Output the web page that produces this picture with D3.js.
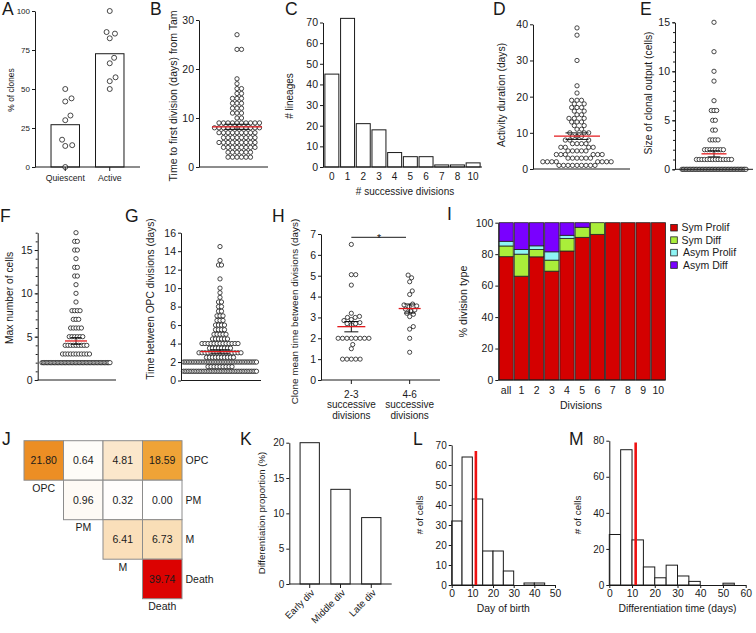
<!DOCTYPE html>
<html>
<head>
<meta charset="utf-8">
<script src="https://cdn.jsdelivr.net/npm/d3@7"></script>
<style>
  body { margin: 0; background: #fff; }
  svg { display: block; }
  text { font-family: "Liberation Sans", Arial, Helvetica, sans-serif; fill: #1a1a1a; }
</style>
</head>
<body>
<svg id="fig" width="756" height="633"></svg>
<script>
// ---- data ----

// A: % of clones per animal
const pctQuiescent = [50, 44, 42, 33, 30, 17.5, 14, 13.5, 0];
const pctActive = [100, 86.5, 85.5, 82.5, 70, 66.5, 57.5, 55, 50];

// B: time to first division from Tam (days) -> number of cells
const firstDivDays = [2, 3, 4, 5, 6, 7, 8, 9, 10, 11, 12, 13, 14, 15, 16, 17, 18, 24, 27];
const firstDivCounts = [6, 6, 8, 9, 8, 9, 11, 10, 2, 3, 3, 3, 3, 2, 2, 1, 1, 2, 1];

// C: lineages per number of successive divisions
const nDivisions = ["0", "1", "2", "3", "4", "5", "6", "7", "8", "10"];
const nLineages = [45, 72, 21, 18, 7, 5, 5, 1, 1, 2];

// D: activity duration (days)
const activityDays = [1, 2, 3, 4, 5, 6, 7, 8, 9, 10, 11, 12, 13, 14, 15, 16, 17, 18, 19, 21, 23, 30, 37, 39];
const activityCounts = [9, 8, 6, 6, 5, 4, 4, 3, 3, 3, 2, 2, 3, 3, 2, 2, 3, 2, 3, 1, 1, 1, 1, 1];

// E: size of clonal output (cells)
const outputCells = [0, 1, 2, 3, 4, 5, 6, 7, 9, 10, 12, 15];
const outputCounts = [45, 14, 8, 4, 2, 2, 3, 1, 1, 1, 1, 1];

// F: max number of cells
const maxCells = [2, 3, 4, 5, 6, 7, 8, 9, 10, 11, 12, 13, 14, 15, 16, 17];
const maxCellsCounts = [50, 11, 9, 6, 5, 3, 4, 1, 1, 1, 2, 2, 1, 2, 2, 1];

// G: time between OPC divisions (days)
const opcGapDays = [1, 1.5, 2, 2.5, 3, 3.5, 4, 4.5, 5, 5.5, 6, 6.5, 7, 7.5, 8, 8.5, 9, 9.5, 10, 11, 12.5, 13, 14.5];
const opcGapCounts = [45, 9, 45, 10, 15, 8, 13, 6, 5, 4, 4, 3, 3, 2, 2, 2, 1, 1, 1, 1, 2, 1, 1];

// H: clone mean time between divisions (days)
const groupsH = ["2-3", "4-6"];
const clone23 = [6.5, 5.05, 5.05, 4.55, 3.2, 3.05, 3, 3, 2.9, 2.85, 2.75, 2.7, 2.7, 2.65,
  2, 2, 2, 2, 2, 2, 2, 2, 1.7, 1.5, 1, 1, 1, 1, 1];
const clone46 = [5.03, 4.9, 4.71, 4.27, 4.1, 3.64, 3.6, 3.55, 3.51, 3.4, 3.36, 3.31, 3.2, 3.15,
  3.04, 2.56, 2.44, 2.0, 1.33];

// I: % division type per division
const divLabels = ["all", "1", "2", "3", "4", "5", "6", "7", "8", "9", "10"];
const divTypes = ["Sym Prolif", "Sym Diff", "Asym Prolif", "Asym Diff"];
const symProlif = [78.4, 66, 78.3, 69.2, 82, 90.7, 92.6, 100, 100, 100, 100];
const symDiff = [6.8, 14, 4.7, 7, 8, 6.4, 7.4, 0, 0, 0, 0];
const asymProlif = [3, 3, 2.3, 5.3, 2, 0, 0, 0, 0, 0, 0];
const asymDiff = [11.8, 17, 14.7, 18.5, 8, 2.9, 0, 0, 0, 0, 0];

// J: transition matrix
const states = ["OPC", "PM", "M", "Death"];
const transitions = [
  [21.80, 0.64, 4.81, 18.59],
  [null, 0.96, 0.32, 0.00],
  [null, null, 6.41, 6.73],
  [null, null, null, 39.74]
];

// K
const divStages = ["Early div", "Middle div", "Late div"];
const diffProportion = [20, 13.4, 9.4];

// L: day of birth histogram
const birthEdges = [0, 5, 10, 15, 20, 25, 30, 35, 40, 45];
const birthCounts = [32, 64, 43, 17, 17, 7, 0, 1, 1];
const birthMarker = [11.7, 67];

// M: differentiation time histogram
const diffEdges = [0, 5, 10, 15, 20, 25, 30, 35, 40, 45, 50, 55];
const diffCounts = [28, 75, 25, 10, 4, 11, 5, 2, 0, 0, 1];
const diffMarker = [11.6, 79];

// ---- helpers ----
const svg = d3.select("#fig");
const FONT = '"Liberation Sans", Arial, Helvetica, sans-serif';
const INK = "#1a1a1a";
const RED = "#e3191c";

const expand = (vals, counts) => vals.flatMap((v, i) => Array(counts[i]).fill(v));

function txt(x, y, t, fs, anchor) {
  return svg.append("text").attr("x", x).attr("y", y).attr("font-size", fs)
    .attr("text-anchor", anchor || "start").text(t);
}
function vtxt(cx, cy, t, fs) {
  return svg.append("text").attr("transform", `translate(${cx},${cy}) rotate(-90)`)
    .attr("text-anchor", "middle").attr("dy", "0.35em").attr("font-size", fs).text(t);
}
function yAxis(x, y, ticks, fs, minor) {
  if (minor) {
    svg.append("g").attr("transform", `translate(${x},0)`)
      .call(d3.axisLeft(y).tickValues(minor).tickSize(2).tickFormat(""))
      .call(g => g.select(".domain").remove())
      .attr("color", INK);
  }
  return svg.append("g").attr("transform", `translate(${x},0)`)
    .call(d3.axisLeft(y).tickValues(ticks).tickFormat(d3.format("~g"))
      .tickSize(3).tickSizeOuter(0).tickPadding(2))
    .attr("font-family", FONT).attr("font-size", fs).attr("color", INK);
}
function hLine(x0, x1, y) {
  svg.append("line").attr("x1", x0).attr("x2", x1).attr("y1", y).attr("y2", y)
    .attr("stroke", INK).attr("stroke-width", 1);
}

// beeswarm: each point goes to the free spot nearest the centre
function swarm(vals, y, d) {
  const pts = vals.slice().sort((a, b) => a - b).map(v => ({ v, py: y(v), dx: 0 }));
  const placed = [];
  pts.forEach(p => {
    const cands = [0];
    placed.forEach(q => {
      const dy = Math.abs(q.py - p.py);
      if (dy < d) {
        const w = Math.sqrt(d * d - dy * dy);
        cands.push(q.dx + w, q.dx - w);
      }
    });
    cands.sort((a, b) => Math.abs(a) - Math.abs(b));
    p.dx = cands.find(c => placed.every(q => (q.dx - c) ** 2 + (q.py - p.py) ** 2 >= d * d - 1e-6));
    placed.push(p);
  });
  return pts;
}
// rows of equal values, squeezed when a row gets too wide
function rows(vals, sp, maxW) {
  const out = [];
  d3.group(vals, v => v).forEach((arr, v) => {
    const n = arr.length;
    const s = n > 1 ? Math.min(sp, maxW / (n - 1)) : 0;
    arr.forEach((_, i) => out.push({ v, dx: (i - (n - 1) / 2) * s }));
  });
  return out;
}
function dots(pts, cx, y, r) {
  svg.append("g").selectAll("circle").data(pts).join("circle")
    .attr("cx", d => cx + d.dx).attr("cy", d => y(d.v)).attr("r", r)
    .attr("fill", "#fff").attr("stroke", INK).attr("stroke-width", 0.8);
}
function meanSem(vals, cx, y, half) {
  const m = d3.mean(vals), s = d3.deviation(vals) / Math.sqrt(vals.length);
  const g = svg.append("g").attr("stroke", "#111").attr("stroke-width", 1);
  g.append("line").attr("x1", cx).attr("x2", cx).attr("y1", y(m - s)).attr("y2", y(m + s));
  [m - s, m + s].forEach(v => g.append("line")
    .attr("x1", cx - half * 0.5).attr("x2", cx + half * 0.5).attr("y1", y(v)).attr("y2", y(v)));
  svg.append("line").attr("x1", cx - half).attr("x2", cx + half)
    .attr("y1", y(m)).attr("y2", y(m)).attr("stroke", RED).attr("stroke-width", 1.3);
}

// panel letters
[["A", 2, 15], ["B", 150, 15], ["C", 285, 15], ["D", 493, 15], ["E", 640, 15],
 ["F", 0, 222], ["G", 125, 222], ["H", 272, 222], ["I", 447, 220],
 ["J", 2, 445], ["K", 240, 445], ["L", 413, 445], ["M", 569, 445]]
  .forEach(([t, x, y]) => txt(x, y, t, 17.5));

// ---- A ----
{
  const y = d3.scaleLinear([0, 100], [167, 11]);
  const x = d3.scaleBand(["Quiescent", "Active"], [35, 140]).paddingInner(0.36).paddingOuter(0.36);
  const groups = [pctQuiescent, pctActive];
  svg.append("g").selectAll("rect").data(x.domain()).join("rect")
    .attr("x", d => x(d)).attr("width", x.bandwidth())
    .attr("y", (d, i) => y(d3.mean(groups[i]))).attr("height", (d, i) => y(0) - y(d3.mean(groups[i])))
    .attr("fill", "#fff").attr("stroke", INK).attr("stroke-width", 1);
  x.domain().forEach((k, i) => {
    const cx = x(k) + x.bandwidth() / 2;
    dots(swarm(groups[i], y, 7), cx, y, 2.5);
    svg.append("line").attr("x1", cx).attr("x2", cx).attr("y1", 167).attr("y2", 171).attr("stroke", INK);
    txt(cx, 181, k, 8.7, "middle");
  });
  yAxis(35, y, [0, 25, 50, 75, 100], 8);
  hLine(35, 140, 167);
  vtxt(11.5, 90, "% of clones", 8.4);
}

// ---- B ----
{
  const y = d3.scaleLinear([0, 30], [167, 20]);
  const vals = expand(firstDivDays, firstDivCounts);
  dots(swarm(vals, y, 4.5), 237, y, 2.15);
  meanSem(vals, 237, y, 25);
  yAxis(199, y, [0, 10, 20, 30], 10.5);
  hLine(199, 268, 167);
  vtxt(173.5, 96, "Time to first division (days) from Tam", 10.5);
}

// ---- C ----
{
  const y = d3.scaleLinear([0, 70], [167, 22.5]);
  const x = d3.scaleBand(nDivisions, [323, 482]).paddingInner(0.11).paddingOuter(0.12);
  svg.append("g").selectAll("rect").data(nDivisions).join("rect")
    .attr("x", d => x(d)).attr("width", x.bandwidth())
    .attr("y", (d, i) => y(nLineages[i])).attr("height", (d, i) => y(0) - y(nLineages[i]))
    .attr("fill", "#fff").attr("stroke", INK).attr("stroke-width", 1);
  nDivisions.forEach(d => txt(x(d) + x.bandwidth() / 2, 180, d, 10, "middle"));
  yAxis(323, y, d3.range(0, 71, 10), 10.5);
  hLine(323, 482, 167);
  vtxt(289.5, 96, "# lineages", 10);
  txt(405, 194.5, "# successive divisions", 10, "middle");
}

// ---- D ----
{
  const y = d3.scaleLinear([0, 40], [169, 24.3]);
  const vals = expand(activityDays, activityCounts);
  dots(swarm(vals, y, 4.5), 577, y, 2.15);
  meanSem(vals, 577, y, 23);
  yAxis(533, y, [0, 10, 20, 30, 40], 10.5);
  hLine(533, 630, 169);
  vtxt(501.5, 95, "Activity duration (days)", 10.3);
}

// ---- E ----
{
  const y = d3.scaleLinear([0, 15], [169.3, 22.3]);
  const vals = expand(outputCells, outputCounts);
  dots(rows(vals, 2.7, 64), 714, y, 2.15);
  meanSem(vals, 714, y, 12.5);
  yAxis(675, y, [0, 5, 10, 15], 10.5, d3.range(0, 16));
  hLine(675, 753, 169.3);
  vtxt(648.5, 93, "Size of clonal output (cells)", 10.3);
}

// ---- F ----
{
  const y = d3.scaleLinear([0, 17], [380, 232.7]);
  const vals = expand(maxCells, maxCellsCounts);
  dots(rows(vals, 2.7, 68), 76, y, 2.15);
  meanSem(vals, 76, y, 11);
  yAxis(37.7, y, [0, 5, 10, 15], 10.5, d3.range(0, 18));
  hLine(37.7, 116, 380);
  vtxt(9.5, 298, "Max number of cells", 10.3);
}

// ---- G ----
{
  const y = d3.scaleLinear([0, 16], [380.5, 232.7]);
  const vals = expand(opcGapDays, opcGapCounts);
  dots(rows(vals, 3, 73), 220, y, 2.15);
  meanSem(vals, 220, y, 19.5);
  yAxis(181, y, d3.range(0, 17, 2), 10.5);
  hLine(181, 261, 380.5);
  vtxt(150, 299, "Time between OPC divisions (days)", 10.2);
}

// ---- H ----
{
  const y = d3.scaleLinear([0, 7], [380, 234]);
  const x = d3.scalePoint(groupsH, [321, 440]).padding(0.52);
  [clone23, clone46].forEach((vals, i) => {
    const cx = x(groupsH[i]);
    dots(swarm(vals, y, 4.4), cx, y, 2.1);
    meanSem(vals, cx, y, i ? 11 : 14);
    svg.append("line").attr("x1", cx).attr("x2", cx).attr("y1", 380).attr("y2", 384).attr("stroke", INK);
    const t = svg.append("text").attr("text-anchor", "middle").attr("font-size", 10);
    [groupsH[i], "successive", "divisions"].forEach((s, j) =>
      t.append("tspan").attr("x", cx).attr("y", 398 + j * 10.3).text(s));
  });
  yAxis(321, y, d3.range(0, 8), 10.5);
  hLine(321, 440, 380);
  hLine(x(groupsH[0]), 406, 237.3);
  txt(379, 241.5, "*", 10.5, "middle");
  vtxt(294.5, 311.5, "Clone mean time between divisions (days)", 9.9);
}

// ---- I ----
{
  const y = d3.scaleLinear([0, 100], [380, 222.7]);
  const x = d3.scaleBand(divLabels, [499, 665.5]).paddingInner(0.065).paddingOuter(0);
  const colors = ["#d40000", "#aaee3a", "#8ef4f4", "#7a00ff"];
  const series = [symProlif, symDiff, asymProlif, asymDiff];
  const table = divLabels.map((k, i) => {
    const row = { k };
    divTypes.forEach((t, j) => row[t] = series[j][i]);
    return row;
  });
  const stacked = d3.stack().keys(divTypes)(table);
  svg.append("g").selectAll("g").data(stacked).join("g")
    .attr("fill", (d, i) => colors[i])
    .selectAll("rect").data(d => d.filter(p => p[1] - p[0] > 0)).join("rect")
    .attr("x", d => x(d.data.k)).attr("width", x.bandwidth())
    .attr("y", d => y(d[1])).attr("height", d => y(d[0]) - y(d[1]))
    .attr("stroke", "#222").attr("stroke-width", 0.8);
  divLabels.forEach(k => txt(x(k) + x.bandwidth() / 2, 393.5, k, 10.5, "middle"));
  yAxis(498.3, y, d3.range(0, 101, 20), 10.5);
  hLine(498.3, 665.5, 380);
  vtxt(463.5, 301.5, "% division type", 10.8);
  txt(581, 409, "Divisions", 10.5, "middle");
  divTypes.forEach((t, i) => {
    const cy = 227.7 + i * 12.45;
    svg.append("rect").attr("x", 670.7).attr("y", cy - 3.3).attr("width", 6.6).attr("height", 6.6)
      .attr("fill", colors[i]).attr("stroke", "#222").attr("stroke-width", 0.8);
    txt(i < 2 ? 681.5 : 683, cy, t, 10.5).attr("dy", "0.35em");
  });
}

// ---- J ----
{
  const x = d3.scaleBand(states, [24, 182]);
  const y = d3.scaleBand(states, [440.7, 598.7]);
  const color = d3.scaleLinear([0, 20, 40], ["#ffffff", "#ee9c28", "#dc0000"]);
  const cells = [];
  transitions.forEach((row, i) => row.forEach((v, j) => { if (v !== null) cells.push({ i, j, v }); }));
  const g = svg.append("g");
  g.selectAll("rect").data(cells).join("rect")
    .attr("x", d => x(states[d.j])).attr("y", d => y(states[d.i]))
    .attr("width", x.bandwidth()).attr("height", y.bandwidth())
    .attr("fill", d => color(d.v)).attr("stroke", "#8c8c8c").attr("stroke-width", 1);
  cells.forEach(d => txt(x(states[d.j]) + x.bandwidth() / 2, y(states[d.i]) + y.bandwidth() / 2, d.v.toFixed(2), 10.5, "middle")
    .attr("dy", "0.35em"));
  states.forEach(s => {
    txt(x(s) + x.bandwidth() / 2, y(s) + y.bandwidth() + 11.5, s, 10.5, "middle");
    txt(185.5, y(s) + y.bandwidth() / 2, s, 10.5).attr("dy", "0.35em");
  });
}

// ---- K ----
{
  const y = d3.scaleLinear([0, 20], [584, 442.7]);
  const x = d3.scaleBand(divStages, [289.3, 391.7]).paddingInner(0.373).paddingOuter(0.35);
  svg.append("g").selectAll("rect").data(divStages).join("rect")
    .attr("x", d => x(d)).attr("width", x.bandwidth())
    .attr("y", (d, i) => y(diffProportion[i])).attr("height", (d, i) => y(0) - y(diffProportion[i]))
    .attr("fill", "#fff").attr("stroke", INK).attr("stroke-width", 1);
  divStages.forEach(d => {
    const cx = x(d) + x.bandwidth() / 2;
    svg.append("line").attr("x1", cx).attr("x2", cx).attr("y1", 584).attr("y2", 588).attr("stroke", INK);
    svg.append("text").attr("transform", `translate(${cx + 3},${591}) rotate(-45)`)
      .attr("text-anchor", "end").attr("dy", "0.35em").attr("font-size", 9.6).text(d);
  });
  yAxis(289.3, y, [0, 5, 10, 15, 20], 10);
  hLine(289.3, 391.7, 584);
  vtxt(261.5, 513, "Differentiation proportion (%)", 9.6);
}

// ---- L and M histograms ----
function histPanel(edges, counts, marker, xr, yMax, yr, yTicks, xTicks, xTitle, ylx) {
  const x = d3.scaleLinear([0, xTicks[xTicks.length - 1]], xr);
  const y = d3.scaleLinear([0, yMax], yr);
  const bins = counts.map((c, i) => ({ lo: edges[i], hi: edges[i + 1], c })).filter(b => b.c > 0);
  svg.append("g").selectAll("rect").data(bins).join("rect")
    .attr("x", d => x(d.lo)).attr("width", d => x(d.hi) - x(d.lo))
    .attr("y", d => y(d.c)).attr("height", d => y(0) - y(d.c))
    .attr("fill", "#fff").attr("stroke", INK).attr("stroke-width", 1);
  svg.append("line").attr("x1", x(marker[0])).attr("x2", x(marker[0]))
    .attr("y1", y(0)).attr("y2", y(marker[1])).attr("stroke", "#ee1111").attr("stroke-width", 2.6);
  yAxis(xr[0], y, yTicks, 10);
  svg.append("g").attr("transform", `translate(0,${yr[0]})`)
    .call(d3.axisBottom(x).tickValues(xTicks).tickSize(3).tickSizeOuter(0).tickPadding(2))
    .attr("font-family", FONT).attr("font-size", 10.3).attr("color", INK);
  txt((xr[0] + xr[1]) / 2, 612, xTitle, 10.4, "middle");
  vtxt(ylx, 515, "# of cells", 9.8);
}
histPanel(birthEdges, birthCounts, birthMarker, [451.7, 555], 70, [585, 445],
  d3.range(0, 71, 10), d3.range(0, 51, 10), "Day of birth", 419.5);
histPanel(diffEdges, diffCounts, diffMarker, [609.3, 745.7], 80, [585, 440.7],
  d3.range(0, 81, 20), d3.range(0, 61, 10), "Differentiation time (days)", 577.5);
</script>
</body>
</html>
